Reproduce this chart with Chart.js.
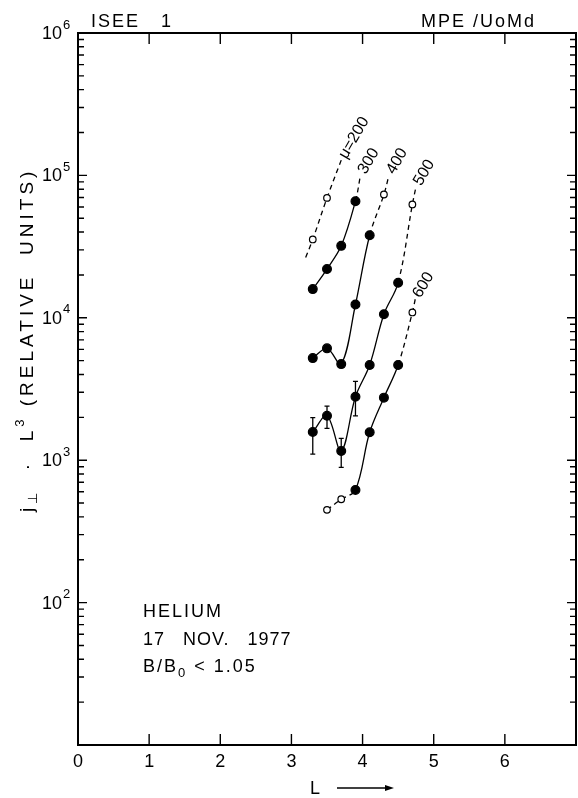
<!DOCTYPE html>
<html lang="en">
<head>
<meta charset="UTF-8">
<title>ISEE 1 Helium</title>
<script src="https://cdn.jsdelivr.net/npm/chart.js@4.4.0/dist/chart.umd.min.js"></script>
<style>
    body { margin: 0; background: #fff; }
    .chart-container { position: relative; width: 578px; height: 798px; }
</style>
</head>
<body>
<div class="chart-container"><canvas id="fluxChart" width="578" height="798"></canvas></div>
<script>
const xTicks = [0, 1, 2, 3, 4, 5, 6];
const yTickExps = [2, 3, 4, 5, 6];
const muLabels = ['μ=200', '300', '400', '500', '600'];

// 'f' = filled point, 'open' = open circle, 'tail' = line end leading to the label
const mu200L = [3.2, 3.3, 3.5, 3.7];
const mu200J = [26500, 35500, 69500, 128000];
const mu200Kind = ['tail', 'open', 'open', 'tail'];

const mu300L = [3.3, 3.5, 3.7, 3.9, 3.97];
const mu300J = [15900, 22000, 32000, 65900, 100000];
const mu300Kind = ['f', 'f', 'f', 'f', 'tail'];

const mu400L = [3.3, 3.5, 3.7, 3.9, 4.1, 4.3, 4.37];
const mu400J = [5210, 6100, 4730, 12400, 38000, 73400, 100000];
const mu400Kind = ['f', 'f', 'f', 'f', 'f', 'open', 'tail'];

const mu500L = [3.3, 3.5, 3.7, 3.9, 4.1, 4.3, 4.5, 4.7, 4.75];
const mu500J = [1580, 2050, 1160, 2790, 4660, 10600, 17600, 62500, 83000];
const mu500Kind = ['f', 'f', 'f', 'f', 'f', 'f', 'f', 'open', 'tail'];
const mu500ErrLow = [1105, 1675, 890, 2050, null, null, null, null, null];
const mu500ErrHigh = [1990, 2400, 1425, 3580, null, null, null, null, null];

const mu600L = [3.5, 3.7, 3.9, 4.1, 4.3, 4.5, 4.7, 4.74];
const mu600J = [448, 532, 618, 1570, 2750, 4660, 10900, 13500];
const mu600Kind = ['open', 'open', 'f', 'f', 'f', 'f', 'open', 'tail'];

const FONT = "'Liberation Sans', Arial, sans-serif";

function makeCurve(L, J, kind) {
    return {
        data: L.map((x, i) => ({ x: x, y: J[i] })),
        borderColor: '#000',
        borderWidth: 1.3,
        tension: 0.35,
        pointRadius: ctx => kind[ctx.dataIndex] === 'tail' ? 0 : (kind[ctx.dataIndex] === 'open' ? 3.3 : 4.4),
        pointBackgroundColor: ctx => kind[ctx.dataIndex] === 'open' ? '#fff' : '#000',
        pointBorderColor: '#000',
        pointBorderWidth: 1.2,
        segment: {
            borderDash: ctx => (kind[ctx.p0DataIndex] !== 'f' || kind[ctx.p1DataIndex] !== 'f') ? [5, 4] : undefined
        }
    };
}

const curves = [
    makeCurve(mu200L, mu200J, mu200Kind),
    makeCurve(mu300L, mu300J, mu300Kind),
    makeCurve(mu400L, mu400J, mu400Kind),
    makeCurve(mu500L, mu500J, mu500Kind),
    makeCurve(mu600L, mu600J, mu600Kind)
];

const errorBars = {
    id: 'errorBars',
    beforeDatasetsDraw(chart) {
        const { ctx, scales: { x, y } } = chart;
        ctx.save();
        ctx.strokeStyle = '#000';
        ctx.lineWidth = 1.3;
        mu500L.forEach((L, i) => {
            if (mu500ErrLow[i] == null) return;
            const px = x.getPixelForValue(L);
            const lo = y.getPixelForValue(mu500ErrLow[i]);
            const hi = y.getPixelForValue(mu500ErrHigh[i]);
            ctx.beginPath();
            ctx.moveTo(px, lo); ctx.lineTo(px, hi);
            ctx.moveTo(px - 2.5, lo); ctx.lineTo(px + 2.5, lo);
            ctx.moveTo(px - 2.5, hi); ctx.lineTo(px + 2.5, hi);
            ctx.stroke();
        });
        ctx.restore();
    }
};

const frame = {
    id: 'frame',
    afterDraw(chart) {
        const { ctx, chartArea: a, scales: { x, y } } = chart;
        ctx.save();
        ctx.strokeStyle = '#000';
        ctx.fillStyle = '#000';

        // top and right border
        ctx.lineWidth = 2;
        ctx.beginPath();
        ctx.moveTo(a.left, a.top); ctx.lineTo(a.right, a.top); ctx.lineTo(a.right, a.bottom);
        ctx.stroke();

        // inward tick marks
        ctx.lineWidth = 1.4;
        ctx.beginPath();
        xTicks.forEach(v => {
            if (v === 0) return;
            const px = x.getPixelForValue(v);
            ctx.moveTo(px, a.bottom); ctx.lineTo(px, a.bottom - 11);
            ctx.moveTo(px, a.top); ctx.lineTo(px, a.top + 11);
        });
        for (let e = Math.log10(y.min); e < Math.log10(y.max); e++) {
            for (let m = 1; m <= 9; m++) {
                const py = y.getPixelForValue(m * Math.pow(10, e));
                const len = m === 1 ? 9 : 6;
                ctx.moveTo(a.left, py); ctx.lineTo(a.left + len, py);
                ctx.moveTo(a.right, py); ctx.lineTo(a.right - len, py);
            }
        }
        ctx.stroke();

        // y tick labels 10^n
        yTickExps.forEach(e => {
            const py = y.getPixelForValue(Math.pow(10, e));
            ctx.textBaseline = 'middle';
            ctx.textAlign = 'right';
            ctx.font = '18px ' + FONT;
            ctx.fillText('10', 62, py + 1);
            ctx.textAlign = 'left';
            ctx.font = '13px ' + FONT;
            ctx.fillText(String(e), 63, py - 8);
        });

        // curve labels along the line direction
        chart.data.datasets.forEach((ds, i) => {
            const p = ds.data[ds.data.length - 1];
            const px = x.getPixelForValue(p.x);
            const py = y.getPixelForValue(p.y);
            ctx.save();
            ctx.translate(px, py);
            ctx.rotate(-60 * Math.PI / 180);
            ctx.font = '16px ' + FONT;
            ctx.textAlign = 'left';
            ctx.textBaseline = 'middle';
            ctx.fillText(muLabels[i], 3, 0);
            ctx.restore();
        });

        // annotations
        ctx.textAlign = 'left';
        ctx.textBaseline = 'alphabetic';
        ctx.font = '18px ' + FONT;
        ctx.letterSpacing = '2px';
        ctx.fillText('ISEE', 91, 27);
        ctx.fillText('1', 161, 27);
        ctx.fillText('MPE /UoMd', 421, 27);
        ctx.fillText('HELIUM', 143, 617);
        ctx.letterSpacing = '1px';
        ctx.fillText('17   NOV.   1977', 143, 645);
        ctx.letterSpacing = '2px';
        ctx.fillText('B/B', 143, 672);
        let w = ctx.measureText('B/B').width;
        ctx.font = '13px ' + FONT;
        ctx.fillText('0', 143 + w, 677);
        let w0 = ctx.measureText('0').width;
        ctx.font = '18px ' + FONT;
        ctx.fillText(' < 1.05', 143 + w + w0, 672);

        // x title with arrow
        ctx.fillText('L', 310, 794);
        ctx.lineWidth = 1.3;
        ctx.beginPath();
        ctx.moveTo(337, 788); ctx.lineTo(390, 788);
        ctx.stroke();
        ctx.beginPath();
        ctx.moveTo(394, 788); ctx.lineTo(385, 785); ctx.lineTo(385, 791);
        ctx.closePath();
        ctx.fill();

        // y title: j⊥ · L³ (RELATIVE UNITS)
        ctx.save();
        ctx.translate(33, 512);
        ctx.rotate(-Math.PI / 2);
        ctx.letterSpacing = '4px';
        let cx = 0;
        const piece = (txt, size, dy) => {
            ctx.font = size + 'px ' + FONT;
            ctx.fillText(txt, cx, dy);
            cx += ctx.measureText(txt).width;
        };
        piece('j', 19, 0);
        piece('⊥', 13, 4);
        piece('  ·  L', 19, 0);
        piece('3', 13, -9);
        piece(' (RELATIVE  UNITS)', 19, 0);
        ctx.restore();

        ctx.restore();
    }
};

new Chart(document.getElementById('fluxChart'), {
    type: 'line',
    data: { datasets: curves },
    options: {
        responsive: false,
        animation: false,
        devicePixelRatio: 1,
        layout: { autoPadding: false, padding: { top: 33, right: 2, left: 0, bottom: 0 } },
        plugins: { legend: { display: false }, tooltip: { enabled: false } },
        scales: {
            x: {
                type: 'linear',
                min: 0,
                max: 7,
                afterFit: s => { s.height = 53; s.paddingLeft = 0; s.paddingRight = 0; },
                grid: { display: false },
                border: { display: true, color: '#000', width: 2 },
                ticks: {
                    stepSize: 1,
                    padding: -2,
                    color: '#000',
                    font: { size: 18, family: FONT },
                    callback: v => xTicks.includes(v) ? String(v) : ''
                }
            },
            y: {
                type: 'logarithmic',
                min: 10,
                max: 1e6,
                afterFit: s => { s.width = 78; s.paddingTop = 0; s.paddingBottom = 0; },
                grid: { display: false },
                border: { display: true, color: '#000', width: 2 },
                ticks: { display: false, autoSkip: false }
            }
        }
    },
    plugins: [errorBars, frame]
});
</script>
</body>
</html>
